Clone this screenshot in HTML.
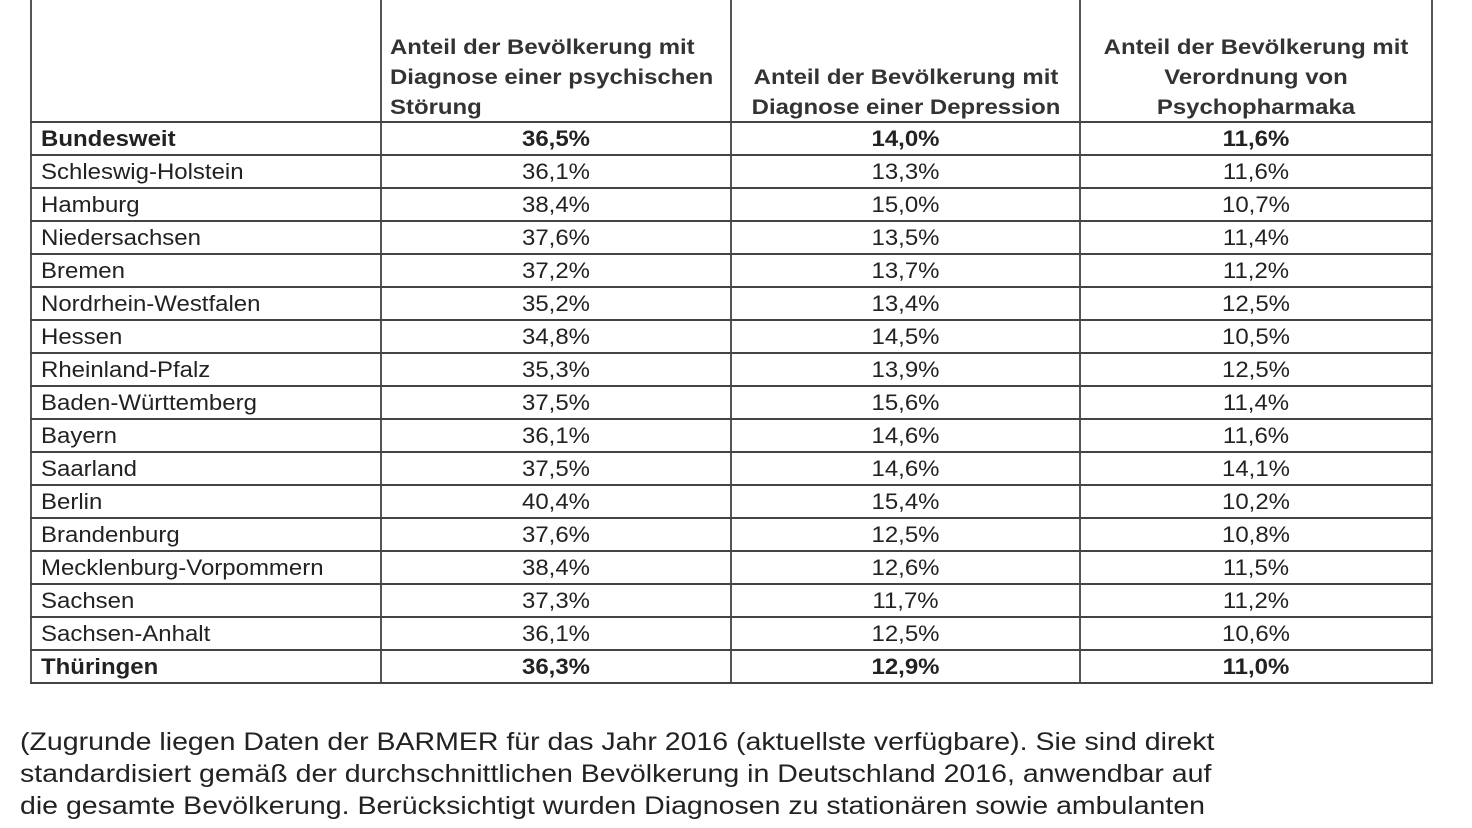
<!DOCTYPE html>
<html><head><meta charset="utf-8"><style>
body{margin:0;width:1472px;height:828px;background:#fff;position:relative;overflow:hidden;font-family:"Liberation Sans",Arial,sans-serif;color:#222}
.h{position:absolute;height:2px;background:#444;left:30px;width:1403px}
.v{position:absolute;width:2px;background:#555;top:0;height:684px}
.c{position:absolute;font-size:22px;line-height:33px;height:33px;white-space:nowrap}
.n{left:41px;transform:scaleX(1.09);transform-origin:0 0}
.m{text-align:center;transform:scaleX(1.09)}
.b{font-weight:bold}
.hd{position:absolute;font-size:21px;font-weight:bold;line-height:30px;text-align:center;color:#333;white-space:nowrap;transform:scaleX(1.14)}
.ft{position:absolute;left:20px;font-size:25px;line-height:32px;color:#222;white-space:nowrap;transform:scaleX(1.14);transform-origin:0 0}
</style></head><body>
<div class="v" style="left:30px"></div>
<div class="v" style="left:380px"></div>
<div class="v" style="left:730px"></div>
<div class="v" style="left:1079px"></div>
<div class="v" style="left:1431px"></div>
<div class="hd" style="left:390px;top:33px;text-align:left;transform-origin:0 0">Anteil der Bevölkerung mit<br>Diagnose einer psychischen<br>Störung</div>
<div class="hd" style="left:732px;top:63px;width:348px">Anteil der Bevölkerung mit<br>Diagnose einer Depression</div>
<div class="hd" style="left:1081px;top:33px;width:350px">Anteil der Bevölkerung mit<br>Verordnung von<br>Psychopharmaka</div>
<div id="rows"></div>
<script>
var d=[["Bundesweit","36,5%","14,0%","11,6%",1],["Schleswig-Holstein","36,1%","13,3%","11,6%"],["Hamburg","38,4%","15,0%","10,7%"],["Niedersachsen","37,6%","13,5%","11,4%"],["Bremen","37,2%","13,7%","11,2%"],["Nordrhein-Westfalen","35,2%","13,4%","12,5%"],["Hessen","34,8%","14,5%","10,5%"],["Rheinland-Pfalz","35,3%","13,9%","12,5%"],["Baden-Württemberg","37,5%","15,6%","11,4%"],["Bayern","36,1%","14,6%","11,6%"],["Saarland","37,5%","14,6%","14,1%"],["Berlin","40,4%","15,4%","10,2%"],["Brandenburg","37,6%","12,5%","10,8%"],["Mecklenburg-Vorpommern","38,4%","12,6%","11,5%"],["Sachsen","37,3%","11,7%","11,2%"],["Sachsen-Anhalt","36,1%","12,5%","10,6%"],["Thüringen","36,3%","12,9%","11,0%",1]];
var h="";
for(var i=0;i<=17;i++)h+='<div class="h" style="top:'+(121+33*i)+'px"></div>';
d.forEach(function(r,i){var t=122+33*i,b=r[4]?" b":"";
h+='<div class="c n'+b+'" style="top:'+t+'px">'+r[0]+'</div>';
h+='<div class="c m'+b+'" style="top:'+t+'px;left:382px;width:348px">'+r[1]+'</div>';
h+='<div class="c m'+b+'" style="top:'+t+'px;left:732px;width:347px">'+r[2]+'</div>';
h+='<div class="c m'+b+'" style="top:'+t+'px;left:1081px;width:350px">'+r[3]+'</div>';});
document.getElementById("rows").innerHTML=h;
</script>
<div class="ft" style="top:726px">(Zugrunde liegen Daten der BARMER für das Jahr 2016 (aktuellste verfügbare). Sie sind direkt</div>
<div class="ft" style="top:758px">standardisiert gemäß der durchschnittlichen Bevölkerung in Deutschland 2016, anwendbar auf</div>
<div class="ft" style="top:790px">die gesamte Bevölkerung. Berücksichtigt wurden Diagnosen zu stationären sowie ambulanten</div>
</body></html>
